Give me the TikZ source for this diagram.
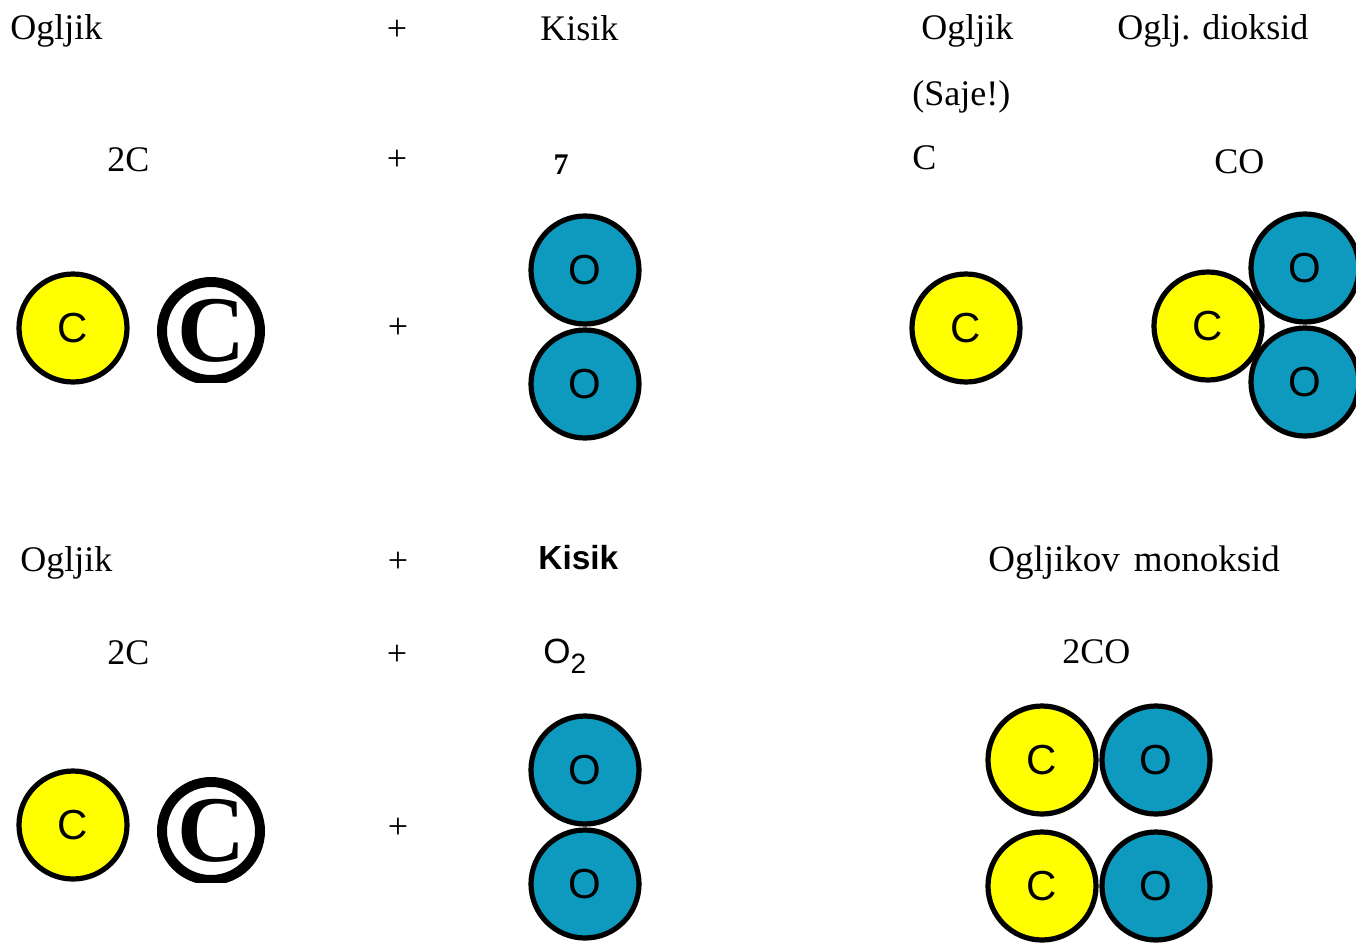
\documentclass[tikz,border=0pt]{standalone}
\usepackage{fontspec}
\setmainfont{Liberation Serif}
\setsansfont{Liberation Sans}

\definecolor{cyellow}{RGB}{255,255,0}
\definecolor{oblue}{RGB}{14,154,190}
\def\txtsz{\fontsize{18}{18}\selectfont}
\def\atomsz{\fontsize{21}{21}\selectfont}
\def\plusx{397}

\tikzset{
  atom/.style={circle, draw=black, line width=2.6pt, minimum size=54pt,
    inner sep=0pt, font=\sffamily\atomsz},
  catom/.style={atom, fill=cyellow},
  oatom/.style={atom, fill=oblue},
  lbl/.style={anchor=west, inner sep=0pt, font=\txtsz},
  sign/.style={inner sep=0pt, font=\txtsz},
  copyc/.style={circle, draw=black, line width=5pt, minimum size=49pt,
    inner sep=0pt, font=\bfseries\fontsize{47}{47}\selectfont}
}

% copyright-like carbon mark, cut flat at the bottom
\newcommand{\carbmark}[3]{%
  \begin{scope}
    \clip (#1-70,#2-70) rectangle (#1+70,#2+51);
    \node [copyc] (#3) at (#1,#2) {\raisebox{-1pt}{C}};
  \end{scope}}

\begin{document}
\begin{tikzpicture} [x=0.5pt, y=-0.5pt]
\useasboundingbox (0,0) rectangle (1356,943);

% carbon burning with enough oxygen
\node [lbl] (ogl1) at (10,31) {Ogljik};
\node [sign] (plus1) at (\plusx,30) {+};
\node [lbl] (kis1) at (540,28) {Kisik};
\node [lbl] (ogl2) at (921,31) {Ogljik};
\node [lbl] (diox) at (1117,31) {Oglj. dioksid};
\node [lbl] (saje) at (912,97) {(Saje!)};

\node [lbl] (twoc1) at (107,160) {2C};
\node [sign] (plus2) at (\plusx,160) {+};
\node [inner sep=0pt, font=\bfseries\fontsize{15}{15}\selectfont] (seven) at (561,165) {7};
\node [lbl] (c1) at (912,158) {C};
\node [lbl] (co1) at (1214,162) {CO};

\node [catom] (ca) at (73,328) {C};
\carbmark{211}{331}{mark1}
\node [sign] (plus3) at (398,328) {+};
\node [oatom] (oa) at (585,270) {O};
\node [oatom] (ob) at (585,384) {O};
\node [catom] (cb) at (966,328) {C};
\node [oatom] (oc) at (1305,268) {O};
\node [oatom] (od) at (1305,382) {O};
\node [catom] (cc) at (1208,326) {C};

% carbon burning with too little oxygen
\node [lbl] (ogl3) at (20,563) {Ogljik};
\node [sign] (plus4) at (398,562) {+};
\node [lbl, font=\sffamily\bfseries\fontsize{16.7}{16.7}\selectfont] (kis2) at (538,558) {Kisik};
\node [lbl, font=\fontsize{18.5}{18.5}\selectfont] (mono) at (988,563) {Ogljikov\hspace{7pt}monoksid};

\node [lbl] (twoc2) at (107,653) {2C};
\node [sign] (plus5) at (\plusx,655) {+};
\node [lbl, font=\sffamily\fontsize{17.5}{17.5}\selectfont] (otwo) at (543,656)
  {O\raisebox{-5pt}{\fontsize{14}{14}\selectfont 2}};
\node [lbl] (twoco) at (1062,652) {2CO};

\node [catom] (cd) at (73,825) {C};
\carbmark{211}{831}{mark2}
\node [sign] (plus6) at (398,828) {+};
\node [oatom] (oe) at (585,770) {O};
\node [oatom] (of) at (585,884) {O};
\node [catom] (ce) at (1042,760) {C};
\node [oatom] (og) at (1156,760) {O};
\node [catom] (cf) at (1042,886) {C};
\node [oatom] (oh) at (1156,886) {O};
\end{tikzpicture}
\end{document}
